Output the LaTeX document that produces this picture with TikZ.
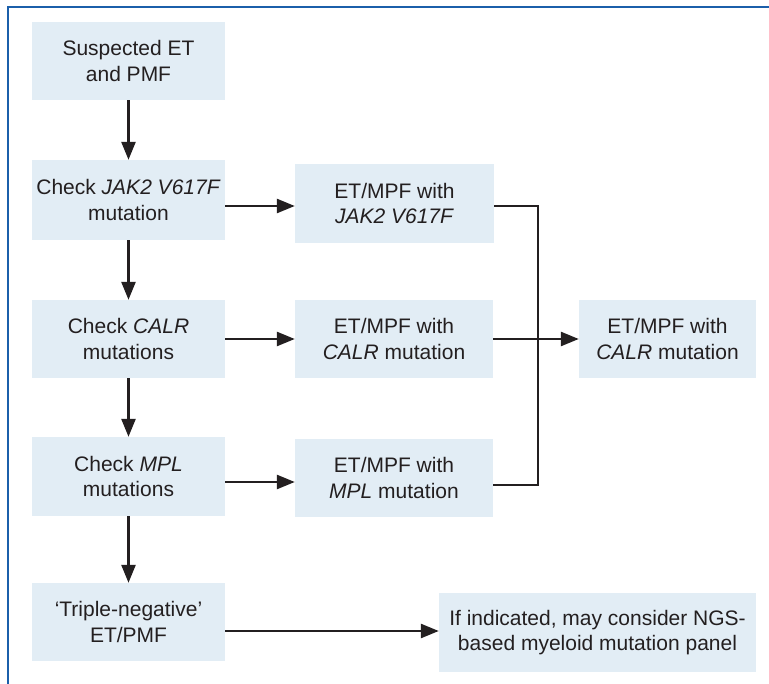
\documentclass[tikz,border=0pt]{standalone}
\usepackage{fontspec}
\setmainfont{Liberation Sans}
\usetikzlibrary{arrows.meta}
\definecolor{boxfill}{HTML}{E2EDF5}
\definecolor{ink}{HTML}{231F20}
\definecolor{frameblue}{HTML}{1B5FAA}
\tikzset{
  box/.style={fill=boxfill, draw=none, align=center, inner sep=0pt,
    font=\fontsize{21}{25.5}\selectfont, text=ink},
  arr/.style={draw=ink, line width=2.6pt, -{Triangle[length=18pt,width=14pt]}},
  lnk/.style={draw=ink, line width=2.6pt, line join=miter}
}
\begin{document}
\begin{tikzpicture}[x=1pt,y=-1pt]
\useasboundingbox (0,0) rectangle (769,684);
\fill[white] (0,0) rectangle (769,684);
\draw[frameblue, line width=1.8pt] (769,7) -- (8,7) -- (8,684);
% left column
\node[box, minimum width=193pt, minimum height=78pt] (b1) at (128.5,61) {Suspected ET\\and PMF};
\node[box, minimum width=193pt, minimum height=80pt] (b2) at (128.5,200) {Check \textit{JAK2 V617F}\\mutation};
\node[box, minimum width=193pt, minimum height=78pt] (b3) at (128.5,339) {Check \textit{CALR}\\mutations};
\node[box, minimum width=193pt, minimum height=79pt] (b4) at (128.5,476.5) {Check \textit{MPL}\\mutations};
\node[box, minimum width=193pt, minimum height=78pt] (b5) at (128.5,622) {`Triple-negative'\\ET/PMF};
% middle column
\node[box, minimum width=199pt, minimum height=79pt] (m1) at (394.5,203.5) {ET/MPF with\\\textit{JAK2 V617F}};
\node[box, minimum width=198pt, minimum height=78pt] (m2) at (394,339) {ET/MPF with\\\textit{CALR} mutation};
\node[box, minimum width=198pt, minimum height=78pt] (m3) at (394,478) {ET/MPF with\\\textit{MPL} mutation};
% right
\node[box, minimum width=177pt, minimum height=78pt] (r) at (667.5,339) {ET/MPF with\\\textit{CALR} mutation};
\node[box, minimum width=317pt, minimum height=79pt] (ngs) at (597.5,632.5) {If indicated, may consider NGS-\\based myeloid mutation panel};
% vertical arrows
\draw[arr] (b1.south) -- (b2.north);
\draw[arr] (b2.south) -- (b3.north);
\draw[arr] (b3.south) -- (b4.north);
\draw[arr] (b4.south) -- (b5.north);
% horizontal arrows
\draw[arr] (b2.east |- 0,206) -- (m1.west |- 0,206);
\draw[arr] (b3.east) -- (m2.west);
\draw[arr] (b4.east |- 0,482) -- (m3.west |- 0,482);
\draw[arr] (b5.east |- 0,631) -- (ngs.west |- 0,631);
% bracket
\coordinate (bx) at (538,339);
\draw[lnk] (m1.east |- 0,206) -- (bx |- 0,206) -- (bx |- 0,485) -- (m3.east |- 0,485);
\draw[arr] (m2.east) -- (r.west);
\end{tikzpicture}
\end{document}
